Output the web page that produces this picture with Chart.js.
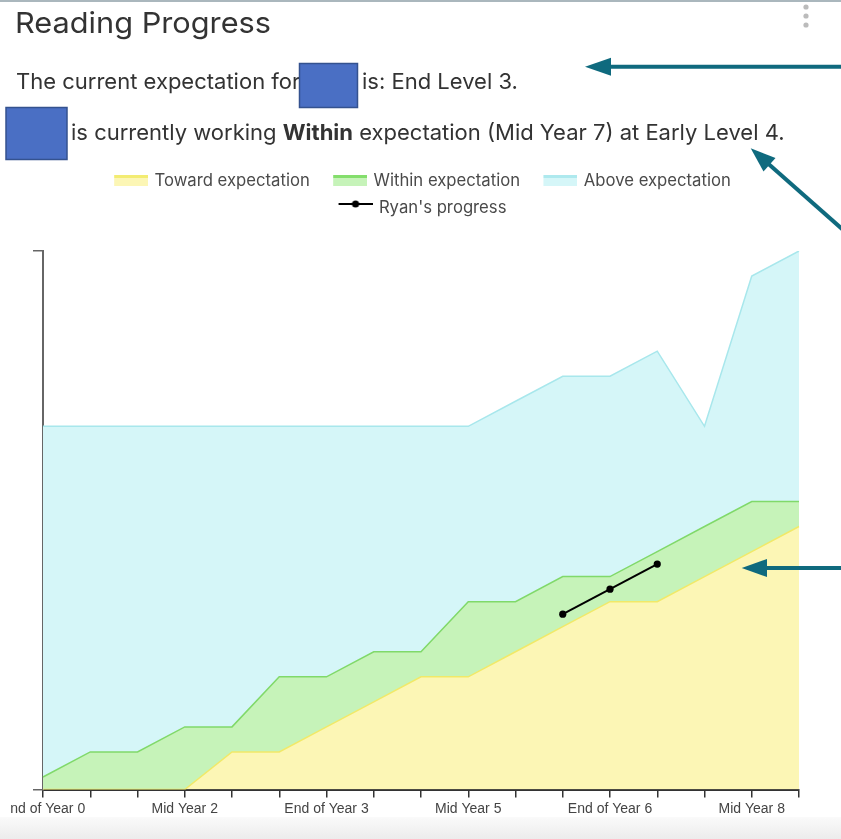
<!DOCTYPE html>
<html>
<head>
<meta charset="utf-8">
<script src="https://cdn.jsdelivr.net/npm/chart.js@4.4.1/dist/chart.umd.min.js"></script>
<style>
  html, body { margin: 0; padding: 0; background: #fff; }
  body { width: 841px; height: 839px; position: relative; overflow: hidden; }
  #band { position: absolute; left: 0; top: 817px; width: 841px; height: 22px;
          background: linear-gradient(#fafafa, #ececec); }
  #wrap { position: absolute; left: 11px; top: 160px; width: 830px; height: 663px; }
  #overlay { position: absolute; left: 0; top: 0; pointer-events: none; }
  #overlay text { font-family: Inter, "Helvetica Neue", Arial, sans-serif; fill: #333; }
</style>
</head>
<body>
<div id="band"></div>
<div id="wrap"><canvas id="chart"></canvas></div>

<svg id="overlay" width="841" height="839">
  <rect x="0" y="0" width="841" height="2" fill="#aab7bd"/>
  <text x="15" y="33" font-size="29" textLength="256" lengthAdjust="spacingAndGlyphs">Reading Progress</text>
  <circle cx="806" cy="7" r="2.6" fill="#bbb"/>
  <circle cx="806" cy="16" r="2.6" fill="#bbb"/>
  <circle cx="806" cy="25" r="2.6" fill="#bbb"/>

  <text x="16" y="89" font-size="22">The current expectation for</text>
  <rect x="299.5" y="63.5" width="58" height="44" fill="#4a6fc4" stroke="#34528f" stroke-width="1.5"/>
  <text x="362" y="89" font-size="22">is: End Level 3.</text>

  <rect x="6" y="107.5" width="61" height="52" fill="#4a6fc4" stroke="#34528f" stroke-width="1.5"/>
  <text x="71" y="139.5" font-size="22">is currently working <tspan font-weight="bold">Within</tspan> expectation (Mid Year 7) at Early Level 4.</text>

  <!-- arrows -->
  <g fill="#0f6a7e" stroke="#0f6a7e">
    <line x1="608" y1="66.7" x2="845" y2="66.7" stroke-width="4"/>
    <polygon points="585,66.7 611,57.7 611,75.7" stroke="none"/>
    <line x1="768" y1="163.5" x2="850" y2="236" stroke-width="4"/>
    <polygon points="750.7,148.3 763.5,171.6 775.5,158.1" stroke="none"/>
    <line x1="765" y1="568" x2="845" y2="568" stroke-width="4"/>
    <polygon points="741.7,568 767,559 767,577" stroke="none"/>
  </g>
</svg>

<script>
const labels = ['End of Year 0', 'Mid Year 1', 'End of Year 1', 'Mid Year 2', 'End of Year 2',
  'Mid Year 3', 'End of Year 3', 'Mid Year 4', 'End of Year 4', 'Mid Year 5', 'End of Year 5',
  'Mid Year 6', 'End of Year 6', 'Mid Year 7', 'End of Year 7', 'Mid Year 8', 'End of Year 8'];

const toward = [0, 0, 0, 0, 1.5, 1.5, 2.5, 3.5, 4.5, 4.5, 5.5, 6.5, 7.5, 7.5, 8.5, 9.5, 10.5];
const within = [0.5, 1.5, 1.5, 2.5, 2.5, 4.5, 4.5, 5.5, 5.5, 7.5, 7.5, 8.5, 8.5, 9.5, 10.5, 11.5, 11.5];
const above = [14.5, 14.5, 14.5, 14.5, 14.5, 14.5, 14.5, 14.5, 14.5, 14.5, 15.5, 16.5, 16.5, 17.5, 14.5, 20.5, 21.5];
const ryan = [null, null, null, null, null, null, null, null, null, null, null, 7, 8, 9, null, null, null];

const yTicks = [0, 21.5];

// legend swatches (left part left transparent to space items out)
function swatch(fill, edge) {
  const c = document.createElement('canvas');
  c.width = 49; c.height = 14;
  const g = c.getContext('2d');
  g.fillStyle = fill;
  g.fillRect(15, 1, 34, 11);
  g.fillStyle = edge;
  g.fillRect(15, 1, 34, 3);
  return c;
}
function lineSwatch() {
  const c = document.createElement('canvas');
  c.width = 49; c.height = 20;
  const g = c.getContext('2d');
  g.strokeStyle = '#000';
  g.lineWidth = 2;
  g.beginPath(); g.moveTo(15, 6); g.lineTo(49, 6); g.stroke();
  g.fillStyle = '#000';
  g.beginPath(); g.arc(32, 6, 3.6, 0, Math.PI * 2); g.fill();
  return c;
}
const swatches = [
  swatch('#fcf6b5', '#f3ec72'),
  swatch('#c6f3b9', '#84de6c'),
  swatch('#d5f6f8', '#aee9ee'),
  lineSwatch()
];

// extra room between the legend and the plot
const legendGap = {
  id: 'legendGap',
  beforeInit(chart) {
    const fit = chart.legend.fit;
    chart.legend.fit = function () {
      fit.call(this);
      this.height += 24.7;
    };
  }
};

new Chart(document.getElementById('chart'), {
  type: 'line',
  data: {
    labels: labels,
    datasets: [
      { label: 'Toward expectation', data: toward, fill: 'origin', backgroundColor: '#fcf6b5',
        borderColor: '#f1e968', borderWidth: 1.5, pointRadius: 0, tension: 0 },
      { label: 'Within expectation', data: within, fill: '-1', backgroundColor: '#c6f3b9',
        borderColor: '#80d96a', borderWidth: 1.5, pointRadius: 0, tension: 0 },
      { label: 'Above expectation', data: above, fill: '-1', backgroundColor: '#d5f6f8',
        borderColor: '#a8e7ec', borderWidth: 1.5, pointRadius: 0, tension: 0 },
      { label: "Ryan's progress", data: ryan, fill: false, borderColor: '#000', backgroundColor: '#000',
        borderWidth: 2, pointRadius: 3.6, pointBackgroundColor: '#000', pointBorderWidth: 0,
        tension: 0, order: -1 }
    ]
  },
  options: {
    responsive: true,
    maintainAspectRatio: false,
    animation: false,
    layout: { padding: { left: 22, right: 42, top: 2.3, bottom: 2.7 } },
    plugins: {
      tooltip: { enabled: false },
      legend: {
        position: 'top',
        labels: {
          usePointStyle: true,
          pointStyleWidth: 45,
          padding: 10.3,
          color: '#4a4a4a',
          font: { family: 'Inter, "Helvetica Neue", Arial, sans-serif', size: 16.7 },
          generateLabels: (chart) => chart.data.datasets.map((ds, i) => ({
            text: ds.label,
            pointStyle: swatches[i],
            datasetIndex: i,
            hidden: false,
            fontColor: '#4a4a4a',
            lineWidth: 0,
            strokeStyle: 'rgba(0,0,0,0)',
            fillStyle: 'rgba(0,0,0,0)'
          }))
        }
      }
    },
    scales: {
      x: {
        grid: { drawOnChartArea: false, drawTicks: true, tickLength: 8, color: '#333', lineWidth: 1.5 },
        border: { display: true, color: '#333', width: 2 },
        ticks: {
          autoSkip: false,
          maxRotation: 0,
          padding: 3,
          color: '#444',
          font: { family: '"Liberation Sans", Arial, sans-serif', size: 14 },
          callback: (v, i) => (i % 3 === 0 ? labels[i] : '')
        },
        afterFit: (scale) => { scale.paddingLeft = 0; scale.paddingRight = 0; }
      },
      y: {
        min: yTicks[0],
        max: yTicks[yTicks.length - 1],
        afterBuildTicks: (scale) => { scale.ticks = yTicks.map(v => ({ value: v })); },
        grid: { drawOnChartArea: false, drawTicks: true, tickLength: 10, color: '#666', lineWidth: 1.5 },
        border: { display: true, color: '#666', width: 2 },
        ticks: { display: false }
      }
    }
  },
  plugins: [legendGap]
});
</script>
</body>
</html>
